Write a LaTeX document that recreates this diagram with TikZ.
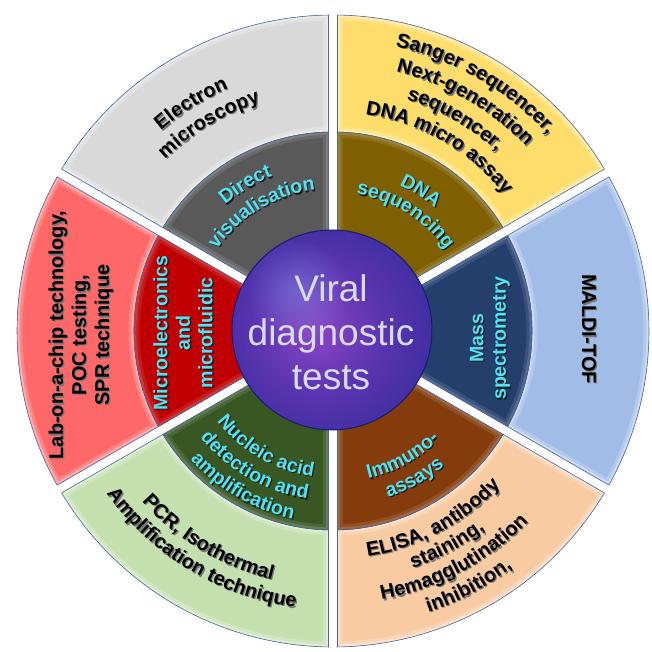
\documentclass[tikz,border=0pt]{standalone}
\usepackage{fontspec}
\setmainfont{Liberation Sans}
\usetikzlibrary{decorations.text,fadings}

% band colours
\definecolor{grayout}{HTML}{D9D9D9}
\definecolor{grayin}{HTML}{595959}
\definecolor{yelout}{HTML}{FFDD6C}
\definecolor{yelin}{HTML}{7F6000}
\definecolor{bluout}{HTML}{A2BCE8}
\definecolor{bluin}{HTML}{243F6C}
\definecolor{orgout}{HTML}{F9CBA2}
\definecolor{orgin}{HTML}{843C0C}
\definecolor{grnout}{HTML}{C4E0AF}
\definecolor{grnin}{HTML}{385723}
\definecolor{redout}{HTML}{FF6868}
\definecolor{redin}{HTML}{C00000}
\definecolor{rimline}{HTML}{4A66A0}
% text colours
\definecolor{cyantext}{HTML}{52E3F3}
\definecolor{hubtext}{HTML}{D7DBF4}
\definecolor{shadeout}{HTML}{767676}
\definecolor{shadein}{HTML}{1A1A1A}
% hub sphere
\definecolor{sphcore}{HTML}{8C46C4}
\definecolor{sphmid}{HTML}{5A34B0}
\definecolor{sphouter}{HTML}{2E2A98}
\definecolor{sphedge}{HTML}{191B6E}
\definecolor{sphlight}{HTML}{7C86E0}
\pgfdeclareradialshading{viralsphere}{\pgfpoint{-5bp}{0bp}}{color(0bp)=(sphcore); color(16bp)=(sphmid); color(36bp)=(sphouter); color(50bp)=(sphedge)}
\tikzfading[name=spotfade, inner color=transparent!0, outer color=transparent!100]

\newcommand\outfont{\fontsize{20}{23}\selectfont\bfseries}
\newcommand\infont{\fontsize{19.5}{22.5}\selectfont\bfseries}
\newcommand\hubfont{\fontsize{37}{44}\selectfont}
\newcommand\gapw{4.5}

% one bevelled piece of a ring: colour, inner r, outer r, start, end, mid %, edge %
\newcommand\ringpiece[7]{%
  \def\pp{({#4+asin(\gapw/#2)}:#2) arc[start angle={#4+asin(\gapw/#2)}, end angle={#5-asin(\gapw/#2)}, radius=#2]
     -- ({#5-asin(\gapw/#3)}:#3) arc[start angle={#5-asin(\gapw/#3)}, end angle={#4+asin(\gapw/#3)}, radius=#3] -- cycle}%
  \fill[#1] \pp;
  \begin{scope}
    \clip \pp;
    \draw[line width=11pt, #1!#6!white] \pp;
    \draw[line width=5pt, #1!#7!white] \pp;
  \end{scope}
  \draw[rimline, line width=0.6pt] \pp;
}

% one line of text with its drop shadow on a clockwise arc (upper half):
% font, colour, shadow colour, radius, centre angle, text
\newcommand\toparc[6]{%
  \path[shift={(1.3,-1.3)}, decorate, decoration={text along path, text align=center, text={|#1\color{#3}|#6}}]
    ({#5+50}:#4) arc[start angle={#5+50}, end angle={#5-50}, radius=#4];
  \path[decorate, decoration={text along path, text align=center, text={|#1\color{#2}|#6}}]
    ({#5+50}:#4) arc[start angle={#5+50}, end angle={#5-50}, radius=#4];
}
% the same on a counter-clockwise arc (lower half)
\newcommand\botarc[6]{%
  \path[shift={(1.3,-1.3)}, decorate, decoration={text along path, text align=center, text={|#1\color{#3}|#6}}]
    ({#5-50}:#4) arc[start angle={#5-50}, end angle={#5+50}, radius=#4];
  \path[decorate, decoration={text along path, text align=center, text={|#1\color{#2}|#6}}]
    ({#5-50}:#4) arc[start angle={#5-50}, end angle={#5+50}, radius=#4];
}

\begin{document}
\begin{tikzpicture}[x=1pt, y=1pt,
  outerlabel/.style={font=\outfont, align=center, text=black},
  innerlabel/.style={font=\infont, align=center, text=cyantext},
  outershade/.style={font=\outfont, align=center, text=shadeout},
  innershade/.style={font=\infont, align=center, text=shadein}]
\useasboundingbox (-333,-321) rectangle (318,331);

% outer band
\ringpiece{grayout}{199}{316}{90}{150}{80}{55}
\ringpiece{yelout}{199}{316}{30}{90}{80}{55}
\ringpiece{bluout}{199}{316}{-30}{30}{80}{55}
\ringpiece{orgout}{199}{316}{-90}{-30}{80}{55}
\ringpiece{grnout}{199}{316}{-150}{-90}{80}{55}
\ringpiece{redout}{199}{316}{150}{210}{80}{55}
% inner band
\ringpiece{grayin}{92}{199}{90}{150}{90}{78}
\ringpiece{yelin}{92}{199}{30}{90}{90}{78}
\ringpiece{bluin}{92}{199}{-30}{30}{90}{78}
\ringpiece{orgin}{92}{199}{-90}{-30}{90}{78}
\ringpiece{grnin}{92}{199}{-150}{-90}{90}{78}
\ringpiece{redin}{92}{199}{150}{210}{90}{78}

% hub
\shade[shading=viralsphere] (-1,1) circle[radius=100];
\fill[sphlight, path fading=spotfade, fill opacity=0.55] (-36,40) circle[radius=52];
\draw[sphedge, line width=1pt] (-1,1) circle[radius=100];
\node[font=\hubfont, text=hubtext, align=center] (hub) at (-2,-1) {Viral\\diagnostic\\tests};

% direct visualisation
\toparc{\outfont}{black}{shadeout}{264}{122}{Electron}
\toparc{\outfont}{black}{shadeout}{240}{121}{microscopy}
\toparc{\infont}{cyantext}{shadein}{166}{121}{Direct}
\toparc{\infont}{cyantext}{shadein}{142}{121}{visualisation}

% DNA sequencing
\toparc{\outfont}{black}{shadeout}{291}{60}{Sanger sequencer,}
\toparc{\outfont}{black}{shadeout}{267}{60}{Next-generation}
\toparc{\outfont}{black}{shadeout}{243}{60}{sequencer,}
\toparc{\outfont}{black}{shadeout}{219}{60}{DNA micro assay}
\toparc{\infont}{cyantext}{shadein}{160}{58}{DNA}
\toparc{\infont}{cyantext}{shadein}{139}{58}{sequencing}

% mass spectrometry
\node[outershade, rotate=-90] (maldishade) at (257.3,0.7) {MALDI-TOF};
\node[outerlabel, rotate=-90] (maldi) at (256,2) {MALDI-TOF};
\node[innershade, rotate=90] (massshade) at (158.3,-8.3) {Mass\\spectrometry};
\node[innerlabel, rotate=90] (mass) at (157,-7) {Mass\\spectrometry};

% immunoassays
\botarc{\infont}{cyantext}{shadein}{152}{-61}{Immuno-}
\botarc{\infont}{cyantext}{shadein}{175}{-61}{assays}
\botarc{\outfont}{black}{shadeout}{228}{-62}{ELISA, antibody}
\botarc{\outfont}{black}{shadeout}{250}{-62}{staining,}
\botarc{\outfont}{black}{shadeout}{273}{-62}{Hemagglutination}
\botarc{\outfont}{black}{shadeout}{297}{-62}{inhibition,}

% nucleic acid detection
\botarc{\infont}{cyantext}{shadein}{147}{-120}{Nucleic acid}
\botarc{\infont}{cyantext}{shadein}{170}{-120}{detection and}
\botarc{\infont}{cyantext}{shadein}{192}{-120}{amplification}
\botarc{\outfont}{black}{shadeout}{256}{-121}{PCR, Isothermal}
\botarc{\outfont}{black}{shadeout}{279}{-121}{Amplification technique}

% microelectronics
\node[outershade, rotate=90] (chipshade) at (-250.7,-5.3) {Lab-on-a-chip technology,\\POC testing,\\SPR technique};
\node[outerlabel, rotate=90] (chip) at (-252,-4) {Lab-on-a-chip technology,\\POC testing,\\SPR technique};
\node[innershade, rotate=90] (microshade) at (-148.7,-3.3) {Microelectronics\\and\\microfluidic};
\node[innerlabel, rotate=90] (micro) at (-150,-2) {Microelectronics\\and\\microfluidic};
\end{tikzpicture}
\end{document}
